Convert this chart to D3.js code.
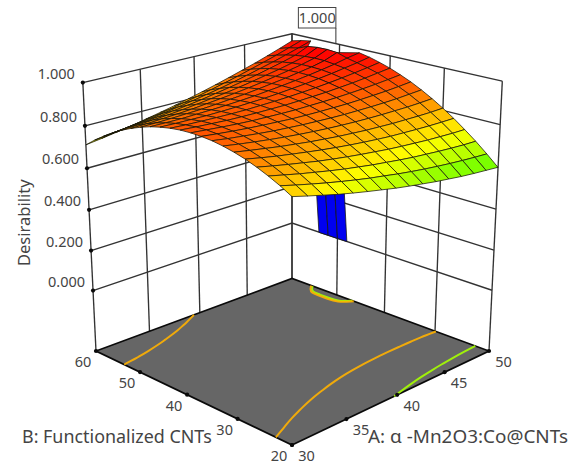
<!DOCTYPE html>
<html><head><meta charset="utf-8">
<script src="https://cdn.jsdelivr.net/npm/d3@7"></script>
<style>html,body{margin:0;padding:0;background:#fff}svg{display:block}
text{font-family:"Noto Sans","Open Sans",sans-serif;fill:#444}</style></head>
<body><svg id="c" width="575" height="469"></svg>
<script>
const zTicks=[0,0.2,0.4,0.6,0.8,1];
const aTicks=[30,35,40,45,50];
const bTicks=[20,30,40,50,60];
const aValues=[30,31.33,32.67,34,35.33,36.67,38,39.33,40.67,42,43.33,44.67,46,47.33,48.67,50];
const bValues=[20,22,24,26,28,30,32,34,36,38,40,42,44,46,48,50,52,54,56,58,60];
const row00=[.760,.742,.725,.708,.693,.679,.666,.653,.642,.632,.622,.614,.606,.600,.595,.590];
const row01=[.789,.772,.756,.741,.727,.714,.702,.692,.681,.672,.664,.657,.651,.646,.642,.639];
const row02=[.814,.799,.784,.771,.758,.746,.736,.726,.718,.710,.703,.698,.693,.689,.686,.685];
const row03=[.836,.822,.809,.797,.785,.775,.766,.758,.751,.744,.739,.735,.731,.729,.727,.727];
const row04=[.855,.842,.830,.820,.810,.801,.793,.786,.780,.775,.771,.769,.767,.766,.766,.767];
const row05=[.870,.859,.849,.839,.831,.823,.817,.811,.807,.803,.801,.799,.799,.799,.800,.803];
const row06=[.882,.872,.863,.855,.848,.842,.837,.833,.830,.828,.827,.827,.828,.829,.832,.836];
const row07=[.891,.882,.875,.868,.862,.858,.854,.852,.850,.849,.850,.851,.853,.856,.861,.866];
const row08=[.896,.889,.883,.878,.874,.871,.868,.867,.867,.868,.869,.872,.876,.880,.886,.893];
const row09=[.898,.893,.888,.884,.881,.880,.879,.879,.881,.883,.886,.890,.895,.901,.908,.916];
const row10=[.897,.893,.890,.887,.886,.886,.887,.888,.891,.895,.899,.905,.911,.919,.928,.937];
const row11=[.892,.889,.888,.887,.887,.888,.891,.894,.898,.903,.909,.916,.924,.933,.943,.954];
const row12=[.884,.883,.883,.883,.885,.888,.892,.896,.902,.909,.916,.925,.934,.945,.956,.969];
const row13=[.873,.873,.874,.877,.880,.884,.889,.895,.903,.911,.920,.930,.941,.953,.968,.980];
const row14=[.858,.860,.863,.867,.871,.877,.884,.891,.900,.910,.920,.932,.944,.960,.985,0];
const row15=[.840,.843,.848,.853,.859,.867,.875,.884,.894,.905,.918,.931,.945,.962,.990,0];
const row16=[.819,.824,.830,.836,.844,.853,.863,.873,.885,.898,.912,.926,.942,.960,.990,0];
const row17=[.794,.800,.808,.816,.826,.836,.847,.860,.873,.887,.902,.919,.936,.955,.985,0];
const row18=[.766,.774,.783,.793,.804,.816,.829,.843,.857,.873,.890,.908,.926,.946,.967,.989];
const row19=[.735,.744,.755,.766,.779,.792,.807,.822,.839,.856,.874,.894,.914,.935,.958,.981];
const row20=[.700,.711,.723,.736,.751,.766,.782,.799,.817,.836,.856,.877,.898,.921,.945,.970];
const zRows=[row00,row01,row02,row03,row04,row05,row06,row07,row08,row09,row10,row11,row12,row13,row14,row15,row16,row17,row18,row19,row20];
const contourLevels=[0.65,0.8];
const flagPoint={a:50,b:50.75,z:1,label:"1.000"};
const axisNames={a:"A: α -Mn2O3:Co@CNTs",b:"B: Functionalized CNTs",z:"Desirability"};

// projective camera
const P0=[292,445],P1=[489,351],P2=[292,278.5],P3=[96,351];
const W=-0.0725,VX=292,VY=4391;
const sxq=P0[0]-P1[0]+P2[0]-P3[0], syq=P0[1]-P1[1]+P2[1]-P3[1];
const dx1=P1[0]-P2[0],dx2=P3[0]-P2[0],dy1=P1[1]-P2[1],dy2=P3[1]-P2[1];
const det=dx1*dy2-dx2*dy1;
const g=(sxq*dy2-dx2*syq)/det, hh=(dx1*syq-sxq*dy1)/det;
const ax=P1[0]-P0[0]+g*P1[0], bx=P3[0]-P0[0]+hh*P3[0];
const ay=P1[1]-P0[1]+g*P1[1], by=P3[1]-P0[1]+hh*P3[1];
const uS=d3.scaleLinear().domain([30,50]).range([0,1]);
const vS=d3.scaleLinear().domain([20,60]).range([0,1]);
const hS=d3.scaleLinear().domain([-0.31,1]).range([0,1]);
const colorS=d3.scaleLinear().domain([0,.26,.52,.72,.98]).range(["#0000f0","#00ffff","#00ff00","#ffff00","#ff0000"]).clamp(true);
function proj(a,b,z){
  const u=uS(a),v=vS(b),h=hS(z);
  const d=g*u+hh*v+1+W*h;
  return [(ax*u+bx*v+P0[0]+VX*W*h)/d,(ay*u+by*v+P0[1]+VY*W*h)/d];
}
// walls sit a little lower toward the outer edges
function wallProj(a,b,z){
  const p=proj(a,b,z);
  return [p[0],p[1]+3*hS(z)*Math.abs(p[0]-292)/205-(1-Math.abs(p[0]-292)/205)*1.2*hS(z)];
}
const FL=-0.31,TOP=1;
const svg=d3.select("#c");
const line=d3.line();
const A0=aTicks[0],A1=aTicks[4],B0=bTicks[0],B1=bTicks[4];

// walls
const walls=svg.append("g").attr("fill","none").attr("stroke","#333").attr("stroke-width",1.35);
zTicks.forEach(z=>{
  walls.append("path").attr("d",line([wallProj(A0,B1,z),wallProj(A1,B1,z),wallProj(A1,B0,z)]));
});
aTicks.forEach(a=>walls.append("path").attr("d",line([wallProj(a,B1,FL),wallProj(a,B1,TOP)])));
bTicks.forEach(b=>walls.append("path").attr("d",line([wallProj(A1,b,FL),wallProj(A1,b,TOP)])));

// floor
svg.append("path").attr("d",line([proj(A0,B0,FL),proj(A1,B0,FL),proj(A1,B1,FL),proj(A0,B1,FL)])+"Z")
  .attr("fill","#666").attr("stroke","#0a0a0a").attr("stroke-width",1.7);

// floor contours
const nx=aValues.length,ny=bValues.length;
const flat=zRows.flat();
const cont=d3.contours().size([nx,ny]).thresholds(contourLevels)(flat);
const aOf=d3.scaleLinear().domain(d3.range(nx)).range(aValues);
const bOf=d3.scaleLinear().domain(d3.range(ny)).range(bValues);
const contourLine=d3.line().curve(d3.curveBasis);
cont.forEach(c=>{
  const segs=[];
  c.coordinates.forEach(poly=>poly.forEach(ring=>{
    let cur=[];
    ring.forEach(p=>{
      const edge=p[0]<=0||p[0]>=nx||p[1]<=0||p[1]>=ny;
      if(edge){if(cur.length>1)segs.push(cur);cur=[];}
      else cur.push(proj(aOf(p[0]-.5),bOf(p[1]-.5),FL));
    });
    if(cur.length>1)segs.push(cur);
  }));
  segs.forEach(s=>svg.append("path").attr("d",contourLine(s))
    .attr("fill","none").attr("stroke",colorS(c.value)).attr("stroke-width",2).attr("stroke-opacity",.9));
});

// tick dots
const dots=[];
zTicks.forEach(z=>dots.push(wallProj(A0,B1,z)));
aTicks.forEach(a=>dots.push(proj(a,B0,FL)));
bTicks.forEach(b=>dots.push(proj(A0,b,FL)));
svg.append("g").selectAll("circle").data(dots).join("circle")
  .attr("cx",d=>d[0]).attr("cy",d=>d[1]).attr("r",2.1).attr("fill","#0a0a0a");

// surface, painted back to front
const surf=svg.append("g");
for(let i=nx-2;i>=0;i--){
  for(let j=ny-2;j>=0;j--){
    const ids=[[i,j],[i+1,j],[i+1,j+1],[i,j+1]];
    const zs=ids.map(k=>zRows[k[1]][k[0]]);
    const zeros=zs.filter(z=>z===0).length;
    let pts,col;
    if(zeros===1){
      // the one dropped corner is folded back onto its inner neighbour
      const kept=ids.map(k=>zRows[k[1]][k[0]]===0?[k[0]-1,k[1]]:k);
      pts=kept.map(k=>proj(aValues[k[0]],bValues[k[1]],zRows[k[1]][k[0]]));
      col=colorS(d3.mean(kept,k=>zRows[k[1]][k[0]]));
    }else{
      pts=ids.map(k=>proj(aValues[k[0]],bValues[k[1]],zRows[k[1]][k[0]]));
      col=zeros===2?colorS(0):colorS(d3.mean(zs));
    }
    surf.append("path").attr("d",line(pts)+"Z").attr("fill",col)
      .attr("stroke","#151508").attr("stroke-width",0.75).attr("stroke-linejoin","round");
  }
}

// flag
const fp=proj(flagPoint.a,flagPoint.b,flagPoint.z);
svg.append("path").attr("d",line([[fp[0],fp[1]],[fp[0],28]])).attr("stroke","#333").attr("stroke-width",1);
svg.append("rect").attr("x",fp[0]-37.5).attr("y",7.5).attr("width",37.5).attr("height",20.5)
  .attr("fill","#fff").attr("stroke","#444").attr("stroke-width",1);
svg.append("text").attr("x",fp[0]-18.7).attr("y",23).attr("text-anchor","middle").attr("font-size",14.5).text(flagPoint.label);

// labels
const fs=14.5;
zTicks.forEach(z=>{
  const p=wallProj(A0,B1,z);
  svg.append("text").attr("x",p[0]-8).attr("y",p[1]-4).attr("text-anchor","end").attr("font-size",fs).text(z.toFixed(3));
});
bTicks.forEach(b=>{
  const p=proj(A0,b,FL);
  svg.append("text").attr("x",p[0]-13).attr("y",p[1]+16).attr("text-anchor","middle").attr("font-size",fs).text(b);
});
aTicks.forEach(a=>{
  const p=proj(a,B0,FL);
  svg.append("text").attr("x",p[0]+14.5).attr("y",p[1]+16).attr("text-anchor","middle").attr("font-size",fs).text(a);
});
svg.append("text").attr("x",22).attr("y",443).attr("font-size",17.9).text(axisNames.b);
svg.append("text").attr("x",368).attr("y",443).attr("font-size",18.9).text(axisNames.a);
svg.append("text").attr("transform","translate(30,266) rotate(-90)").attr("font-size",16.5).text(axisNames.z);
</script></body></html>
